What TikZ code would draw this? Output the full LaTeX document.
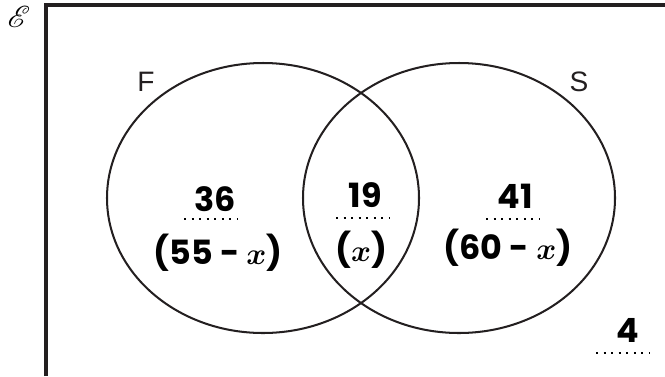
\documentclass[tikz,border=0pt]{standalone}
\usepackage{amsmath}
\usepackage{mathrsfs}
\usepackage{fontspec}
\setmainfont{Liberation Sans}
\newfontfamily\handfont{Poppins}
\usetikzlibrary{positioning}
\definecolor{setblack}{RGB}{35,31,32}

\begin{document}
\begin{tikzpicture}[
  x=0.02cm,y=-0.02cm,
  setline/.style={line width=1.15pt,setblack},
  frameline/.style={line width=1.9pt,setblack},
  setlab/.style={font=\fontsize{16}{18}\selectfont,setblack,inner sep=0pt},
  hand/.style={font=\handfont\bfseries\fontsize{19}{21}\selectfont,inner sep=1pt},
  dots/.style={line width=1.2pt,dash pattern=on 1.2pt off 3.1pt}
]
\useasboundingbox (0,0) rectangle (665,376);

% universal set
\draw[frameline] (46,376) -- (46,5) -- (665,5);
\node[font=\fontsize{18}{20}\selectfont,inner sep=0pt] (univ) at (19,17) {$\mathscr{E}$};

% the two sets
\draw[setline] (263,198) ellipse [x radius=156, y radius=135];
\draw[setline] (459,198) ellipse [x radius=156, y radius=135];
\node[setlab] (setF) at (146,82) {F};
\node[setlab] (setS) at (579,82) {S};

% F only
\node[hand] (onlyF) at (215,199) {36};
\node[hand] (exprF) at (218,253) {(55 - $\boldsymbol{x}$)};
\draw[dots] (184,219) -- (237,219);

% F and S
\node[hand] (both) at (365,195) {19};
\node[hand] (exprB) at (361,250) {($\boldsymbol{x}$)};
\draw[dots] (336,218) -- (389,218);

% S only
\node[hand] (onlyS) at (515,196) {41};
\node[hand] (exprS) at (508,248) {(60 - $\boldsymbol{x}$)};
\draw[dots] (486,219) -- (539,219);

% neither
\node[hand] (none) at (628,330) {4};
\draw[dots] (596,353) -- (649,353);
\end{tikzpicture}
\end{document}
